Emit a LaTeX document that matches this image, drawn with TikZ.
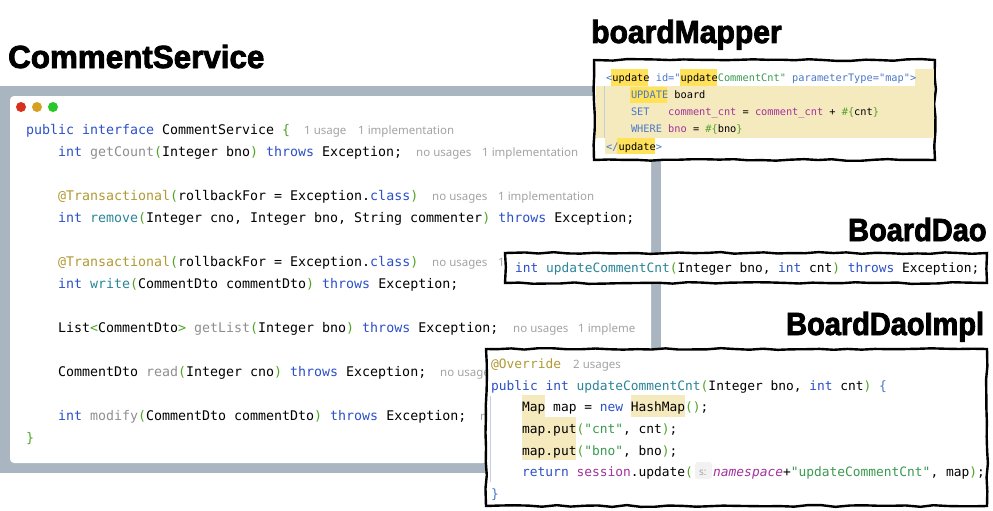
\documentclass[tikz,border=0pt]{standalone}
\usepackage{fontspec}
\setmainfont{Noto Sans}
\setmonofont{DejaVu Sans Mono}
\newfontfamily\titlefont[BoldFeatures={FakeBold=2.5,FakeStretch=0.98}]{Liberation Sans}
\newfontfamily\midtitlefont[BoldFeatures={FakeBold=2.5,FakeStretch=0.94}]{Liberation Sans}
\newfontfamily\narrowtitlefont[BoldFeatures={FakeBold=2.5,FakeStretch=0.905}]{Liberation Sans}
\usetikzlibrary{decorations.pathmorphing}
\definecolor{framegray}{HTML}{A9B5C0}
\definecolor{kwblue}{HTML}{2B50C8}
\definecolor{methteal}{HTML}{2A8598}
\definecolor{unused}{HTML}{8F8F8F}
\definecolor{parengreen}{HTML}{4FA425}
\definecolor{annot}{HTML}{B09A35}
\definecolor{hintgray}{HTML}{A3A3A3}
\definecolor{fieldpink}{HTML}{A3329C}
\definecolor{strgreen}{HTML}{3A9A50}
\definecolor{xmlblue}{HTML}{4A78C8}
\definecolor{tanbg}{HTML}{F5E9BE}
\definecolor{markyellow}{HTML}{FFE25A}
\definecolor{gutter}{HTML}{C5CEDC}
\newcommand{\kw}[1]{\textcolor{kwblue}{#1}}
\newcommand{\mth}[1]{\textcolor{methteal}{#1}}
\newcommand{\grm}[1]{\textcolor{unused}{#1}}
\newcommand{\gp}[1]{\textcolor{parengreen}{#1}}
\newcommand{\ann}[1]{\textcolor{annot}{#1}}
\newcommand{\fd}[1]{\textcolor{fieldpink}{#1}}
\newcommand{\str}[1]{\textcolor{strgreen}{#1}}
\newcommand{\xb}[1]{\textcolor{xmlblue}{#1}}
\pgfmathsetseed{7}
\begin{document}
\begin{tikzpicture}[x=1pt,y=-1pt,
        code/.style={anchor=base west,inner sep=0pt,font=\fontsize{13.29}{16}\ttfamily},
        implcode/.style={anchor=base west,inner sep=0pt,font=\fontsize{12.89}{16}\ttfamily},
        xmlcode/.style={anchor=base west,inner sep=0pt,font=\fontsize{10.3}{12}\ttfamily},
        hint/.style={anchor=base west,inner sep=0pt,text=hintgray,font=\fontsize{11.5}{15}\selectfont},
        heading/.style={anchor=base west,inner sep=0pt,font=#1\bfseries\fontsize{32}{36}\selectfont},
        sketchbox/.style={draw=black,fill=white,line width=2.4pt,decorate,
            decoration={random steps,segment length=14pt,amplitude=.9pt}}]
    \useasboundingbox (0,0) rectangle (993,511);
    % editor window
    \fill[framegray] (0,86) rectangle (661,473);
    \fill[white,rounded corners=4pt] (10,96) rectangle (651,463);
    \foreach \dotx/\dotcol in {21/D8301F,37/D8A020,53/28C82A} {
        \definecolor{dotc}{HTML}{\dotcol}
        \fill[dotc] (\dotx,107) circle (5);
    }
    \node[heading=\titlefont] (servicetitle) at (8,68) {CommentService};
    \node[code] (ifaceline) at (26,134) {\kw{public interface} CommentService \gp{\{}};
    \node[hint] (ifaceuse) at (304,134) {1 usage};
    \node[hint] (ifaceimpl) at (358,134) {1 implementation};
    \node[code] (countline) at (58,156) {\kw{int} \grm{getCount}\gp{(}Integer bno\gp{)} \kw{throws} Exception;};
    \node[hint] (countuse) at (416,156) {no usages};
    \node[hint] (countimpl) at (482,156) {1 implementation};
    \node[code] (annotone) at (58,200) {\ann{@Transactional}\gp{(}rollbackFor = Exception.\kw{class}\gp{)}};
    \node[hint] (annotuse) at (432,200) {no usages};
    \node[hint] (annotimpl) at (498,200) {1 implementation};
    \node[code] (removeline) at (58,222) {\kw{int} \mth{remove}\gp{(}Integer cno, Integer bno, String commenter\gp{)} \kw{throws} Exception;};
    \node[code] (annottwo) at (58,266) {\ann{@Transactional}\gp{(}rollbackFor = Exception.\kw{class}\gp{)}};
    \node[hint] (annottwouse) at (432,266) {no usages};
    \node[hint] (annottwoimpl) at (498,266) {1};
    \node[code] (writeline) at (58,288) {\kw{int} \mth{write}\gp{(}CommentDto commentDto\gp{)} \kw{throws} Exception;};
    \node[code] (listline) at (58,332) {List\gp{<}CommentDto\gp{>} \grm{getList}\gp{(}Integer bno\gp{)} \kw{throws} Exception;};
    \node[hint] (listuse) at (513,332) {no usages};
    \node[hint] (listimpl) at (578,332) {1 impleme};
    \node[code] (readline) at (58,376) {CommentDto \grm{read}\gp{(}Integer cno\gp{)} \kw{throws} Exception;};
    \node[hint] (readuse) at (440,376) {no usage};
    \node[code] (modifyline) at (58,420) {\kw{int} \grm{modify}\gp{(}CommentDto commentDto\gp{)} \kw{throws} Exception;};
    \node[hint] (modifyuse) at (480,420) {n};
    \node[code] (closeline) at (26,442) {\gp{\}}};
    % mapper
    \node[heading=\midtitlefont] (mappertitle) at (591,43) {boardMapper};
    \draw[sketchbox] (594,60) rectangle (935,160);
    \fill[tanbg] (596,86) rectangle (934,137.5);
    \fill[tanbg] (915,69) rectangle (934,86);
    \fill[tanbg] (605,137.5) rectangle (655,154);
    \fill[markyellow] (611,69) rectangle (648,86);
    \fill[markyellow] (680,69) rectangle (717,86);
    \fill[markyellow] (630,87) rectangle (667,103);
    \fill[markyellow] (617,137.5) rectangle (655,154);
    \draw[gutter] (604,86) -- (604,137.5);
    \node[xmlcode] (updateopen) at (606,81.5) {\xb{<}update \xb{id="}update\str{CommentCnt"} \xb{parameterType="map">}};
    \node[xmlcode] (updatesql) at (630.8,98.5) {\xb{UPDATE} board};
    \node[xmlcode] (setsql) at (630.8,115.5) {\xb{SET}\ \ \ \fd{comment\_cnt} = \fd{comment\_cnt} + \gp{\#\{}cnt\gp{\}}};
    \node[xmlcode] (wheresql) at (630.8,132.5) {\xb{WHERE} \fd{bno} = \gp{\#\{}bno\gp{\}}};
    \node[xmlcode] (updateclose) at (606,150) {\xb{</}update\xb{>}};
    % dao
    \node[heading=\narrowtitlefont] (daotitle) at (848,241) {BoardDao};
    \draw[sketchbox] (505,253) rectangle (987,283);
    \node[implcode,font=\fontsize{12.85}{16}\ttfamily] (daoline) at (515,272) {\kw{int} \mth{updateCommentCnt}\gp{(}Integer bno, \kw{int} cnt\gp{)} \kw{throws} Exception;};
    % dao impl
    \node[heading=\narrowtitlefont] (impltitle) at (786,335) {BoardDaoImpl};
    \draw[sketchbox] (486,349) rectangle (987,506);
    \fill[tanbg] (522,395) rectangle (545,417);
    \fill[tanbg] (631,395) rectangle (685,417);
    \fill[tanbg] (522,417) rectangle (576,460);
    \draw[gutter] (490,396) -- (490,482);
    \node[implcode] (overrideline) at (491,368.5) {\ann{@Override}};
    \node[hint] (overrideuse) at (573,368.5) {2 usages};
    \node[implcode] (signline) at (491,390) {\kw{public int} \mth{updateCommentCnt}\gp{(}Integer bno, \kw{int} cnt\gp{)} \xb{\{}};
    \node[implcode] (mapline) at (522,411.7) {Map map = \kw{new} HashMap\gp{()};};
    \node[implcode] (putcnt) at (522,433.5) {map.put\gp{(}\str{"cnt"}, cnt\gp{)};};
    \node[implcode] (putbno) at (522,455) {map.put\gp{(}\str{"bno"}, bno\gp{)};};
    \node[implcode] (returnline) at (522,476.5) {\kw{return} \fd{session}.update\gp{(}};
    \fill[black!5,rounded corners=3pt] (695,462) rectangle (712,479);
    \node[hint,font=\fontsize{10}{12}\selectfont] (paramhint) at (699,475) {s:};
    \node[implcode] (returnargs) at (713,476.5) {\fd{\itshape namespace}+\str{"updateCommentCnt"}, map\gp{)};};
    \node[implcode] (closeimpl) at (491,498) {\xb{\}}};
\end{tikzpicture}
\end{document}
